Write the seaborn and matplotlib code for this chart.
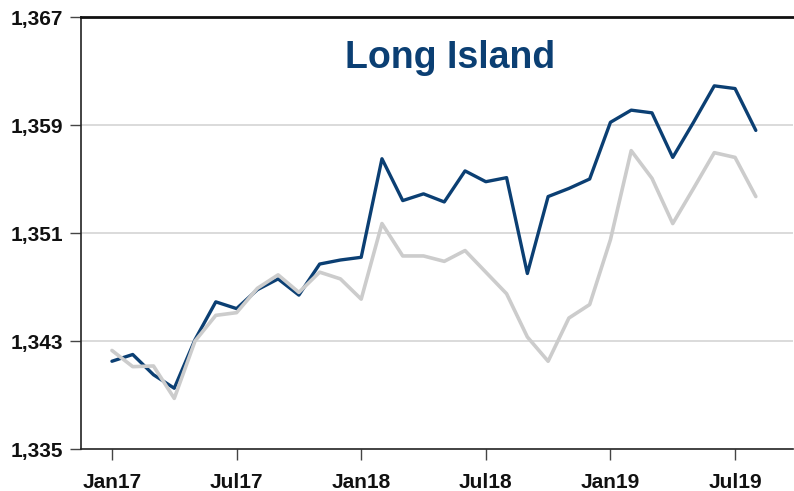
import matplotlib
matplotlib.use("Agg")
import matplotlib.pyplot as plt
import seaborn as sns
import pandas as pd
import numpy as np

months = ["Jan17","Feb17","Mar17","Apr17","May17","Jun17","Jul17","Aug17","Sep17","Oct17","Nov17","Dec17",
          "Jan18","Feb18","Mar18","Apr18","May18","Jun18","Jul18","Aug18","Sep18","Oct18","Nov18","Dec18",
          "Jan19","Feb19","Mar19","Apr19","May19","Jun19","Jul19","Aug19"]
blue_series = [1341.5, 1342.0, 1340.5, 1339.5, 1343.1, 1345.9, 1345.4, 1346.8, 1347.6, 1346.4, 1348.7, 1349.0,
               1349.2, 1356.5, 1353.4, 1353.9, 1353.3, 1355.6, 1354.8, 1355.1, 1348.0, 1353.7, 1354.3, 1355.0,
               1359.2, 1360.1, 1359.9, 1356.6, 1359.2, 1361.9, 1361.7, 1358.6]
grey_series = [1342.3, 1341.1, 1341.15, 1338.75, 1343.0, 1344.9, 1345.1, 1346.9, 1347.9, 1346.6, 1348.1, 1347.6,
               1346.1, 1351.7, 1349.3, 1349.3, 1348.9, 1349.7, 1348.1, 1346.5, 1343.3, 1341.5, 1344.7, 1345.7,
               1350.5, 1357.1, 1355.05, 1351.7, 1354.3, 1356.95, 1356.6, 1353.7]
tick_labels = ["Jan17", "Jul17", "Jan18", "Jul18", "Jan19", "Jul19"]
y_ticks = [1335, 1343, 1351, 1359, 1367]

sns.set_theme(style="white")
plt.rcParams['font.family'] = ['Liberation Sans', 'DejaVu Sans']

idx = np.arange(len(months))
df = pd.DataFrame({
    "idx": np.concatenate([idx, idx]),
    "value": blue_series + grey_series,
    "series": ["A"] * len(idx) + ["B"] * len(idx),
})

fig = plt.figure(figsize=(7.94, 4.91), dpi=100)
ax = fig.add_axes([81/794, 42/491, (793-81)/794, (449-17)/491])

sns.lineplot(data=df, x="idx", y="value", hue="series", hue_order=["A", "B"],
             palette={"A": "#0b3f73", "B": "#cccccc"}, linewidth=2.4, ax=ax, legend=False,
             sort=False)
lines = ax.get_lines()
lines[0].set_zorder(3)
lines[1].set_zorder(4)
lines[1].set_linewidth(2.6)

ax.set_ylim(1335, 1367)
ax.set_xlim(-1.49, 32.79)
ax.set_yticks(y_ticks)
ax.set_yticklabels([f"{v:,}" for v in y_ticks], fontsize=15, fontweight="bold")
ax.set_xticks([0, 6, 12, 18, 24, 30])
ax.set_xticklabels(tick_labels, fontsize=15, fontweight="bold")
ax.set_xlabel("")
ax.set_ylabel("")

for v in [1343, 1351, 1359]:
    ax.axhline(v, color="#d4d4d4", linewidth=1.2, zorder=1)

ax.tick_params(axis="both", direction="out", length=8, width=1, color="#444444",
               labelcolor="#111111", left=True, bottom=True)
ax.tick_params(axis="x", pad=9)
ax.tick_params(axis="y", pad=5)
for s in ["left", "bottom", "top"]:
    ax.spines[s].set_visible(True)
    ax.spines[s].set_color("#222222")
ax.spines["left"].set_linewidth(1.2)
ax.spines["bottom"].set_linewidth(1.2)
ax.spines["top"].set_linewidth(2.0)
ax.spines["top"].set_color("#111111")
ax.spines["right"].set_visible(False)

ax.text(0.518, 0.905, "Long Island", transform=ax.transAxes, ha="center", va="center",
        fontsize=27, fontweight="bold", color="#0b3f73")

fig.savefig("out.png", dpi=100)
